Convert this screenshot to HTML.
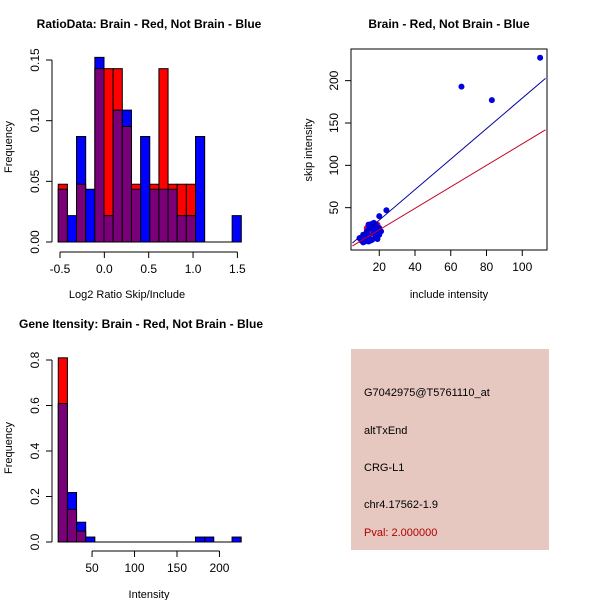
<!DOCTYPE html>
<html><head><meta charset="utf-8"><style>
body{margin:0;background:#fff;}
svg{display:block;font-family:"Liberation Sans",sans-serif;}
</style></head><body>
<svg id="c" width="600" height="600" xmlns="http://www.w3.org/2000/svg">
<rect width="600" height="600" fill="#fff"/>
<g>
<rect x="351" y="349" width="198" height="201" fill="#E6C8C1"/>
<text x="364" y="396" font-size="11" fill="#000">G7042975@T5761110_at</text>
<text x="364" y="434" font-size="11" fill="#000">altTxEnd</text>
<text x="364" y="471" font-size="11" fill="#000">CRG-L1</text>
<text x="364" y="508" font-size="11" fill="#000">chr4.17562-1.9</text>
<text x="364" y="536" font-size="11" fill="#B00000">Pval: 2.000000</text>
</g>
</svg>
<script>
// ratio histogram data (counts per bin)
const ratioStart=-0.52, ratioWidth=0.1032;
const ratioRed=[1,0,1,0,3,3,3,2,1,0,1,3,1,1,1,0,0,0,0,0];
const ratioBlue=[2,1,4,2,7,1,5,5,2,4,2,2,2,1,1,4,0,0,0,1];
const ratioXTicks=[-0.5,0,0.5,1,1.5];
const ratioXLabels=["-0.5","0.0","0.5","1.0","1.5"];
const ratioYTicks=[0,0.05,0.10,0.15];
const ratioYLabels=["0.00","0.05","0.10","0.15"];
// intensity histogram data
const intStart=10.2, intWidth=10.77;
const intRed=[17,3,1,0,0,0,0,0,0,0,0,0,0,0,0,0,0,0,0,0];
const intBlue=[28,10,4,1,0,0,0,0,0,0,0,0,0,0,0,1,1,0,0,1];
const intXTicks=[50,100,150,200];
const intYTicks=[0,0.2,0.4,0.6,0.8];
const intYLabels=["0.0","0.2","0.4","0.6","0.8"];
// scatter data
const blueX=[110,66,83,24,20,10,11,12,13,14,15,16,17,18,19,20,12,14,16,18,11,13,15,17,19,10,12,14,9,16,18,20,13,15,17,19,21,11,14];
const blueY=[227,193,177,47,40,12,14,16,20,24,30,31,32,28,22,26,10,10,12,15,18,22,26,20,16,12,11,17,14,25,30,18,14,11,24,13,22,9,30];
const redX=[13,19,9,12,15,18,10];
const redY=[26,30,14,12,18,22,11];
const blueFit=[1.8,-0.7];
const redFit=[1.27,-1.6];
const scXTicks=[20,40,60,80,100];
const scYTicks=[50,100,150,200];

const svg=document.getElementById('c');
const NS="http://www.w3.org/2000/svg";
function el(t,a,txt){const e=document.createElementNS(NS,t);for(const k in a)e.setAttribute(k,a[k]);if(txt!==undefined)e.textContent=txt;svg.appendChild(e);return e;}

function hist(o){
  const nR=o.red.reduce((a,b)=>a+b,0), nB=o.blue.reduce((a,b)=>a+b,0);
  for(let i=0;i<o.red.length;i++){
    const r=o.red[i]/nR,b=o.blue[i]/nB;
    const x0=o.sx(o.start+i*o.width), x1=o.sx(o.start+(i+1)*o.width);
    const hi=Math.max(r,b), lo=Math.min(r,b);
    if(hi>0){
      const e=el('rect',{x:x0,y:o.sy(hi),width:x1-x0,height:o.sy(0)-o.sy(hi),fill:r>b?'#FF0000':'#0000FF',stroke:'#000','stroke-width':1});
      
      
    }
    if(lo>0){
      const e=el('rect',{x:x0,y:o.sy(lo),width:x1-x0,height:o.sy(0)-o.sy(lo),fill:'#7A007A',stroke:'#000','stroke-width':1});
      
      
    }
  }
  const xa=el('line',{x1:o.sx(o.start),x2:o.sx(o.start+o.red.length*o.width),y1:o.sy(0),y2:o.sy(0),stroke:'#000'});
  
  
}
function xaxis(ticks,labels,sx,y,name){
  const a=el('line',{x1:sx(ticks[0]),x2:sx(ticks[ticks.length-1]),y1:y,y2:y,stroke:'#000'});
  
  
  ticks.forEach((t,i)=>{
    el('line',{x1:sx(t),x2:sx(t),y1:y,y2:y+6,stroke:'#000'});
    const e=el('text',{x:sx(t),y:y+21,'font-size':12,'text-anchor':'middle'},labels[i]);
    
    
  });
}
function yaxis(ticks,labels,sy,x,name){
  const a=el('line',{x1:x,x2:x,y1:sy(ticks[0]),y2:sy(ticks[ticks.length-1]),stroke:'#000'});
  
  
  ticks.forEach((t,i)=>{
    el('line',{x1:x-6,x2:x,y1:sy(t),y2:sy(t),stroke:'#000'});
    const lx=x-13;
    const e=el('text',{x:lx,y:sy(t),'font-size':12,'text-anchor':'middle',transform:`rotate(-90 ${lx} ${sy(t)})`},labels[i]);
    
    
  });
}
function label(x,y,txt,name,rot,bold,size){
  const a={x:x,y:y,'font-size':size||11,'text-anchor':'middle'};
  if(rot)a.transform=`rotate(-90 ${x} ${y})`;
  if(bold)a['font-weight']='bold';
  const e=el('text',a,txt);
  
  
}

// Panel 1
const sx1=v=>60+(v+0.5)*88.7, sy1=v=>242-v*1213.3;
hist({red:ratioRed,blue:ratioBlue,start:ratioStart,width:ratioWidth,sx:sx1,sy:sy1,name:'ratio'});
xaxis(ratioXTicks,ratioXLabels,sx1,252,'ratio');
yaxis(ratioYTicks,ratioYLabels,sy1,52,'ratio');
label(149,28,'RatioData: Brain - Red, Not Brain - Blue','ratio-title',false,true,12);
label(127,298,'Log2 Ratio Skip/Include','ratio-x-title');
label(12,147,'Frequency','ratio-y-title',true);

// Panel 3
const sx3=v=>49.6+v*0.8493, sy3=v=>542-v*227.5;
hist({red:intRed,blue:intBlue,start:intStart,width:intWidth,sx:sx3,sy:sy3,name:'intensity'});
xaxis(intXTicks,intXTicks.map(String),sx3,551,'intensity');
yaxis(intYTicks,intYLabels,sy3,52,'intensity');
label(141,328,'Gene Itensity: Brain - Red, Not Brain - Blue','intensity-title',false,true,12);
label(149,598,'Intensity','intensity-x-title');
label(12,448,'Frequency','intensity-y-title',true);

// Panel 2 scatter
const sx2=v=>343.5+v*1.7875, sy2=v=>250-v*0.8467;
el('rect',{x:351,y:49,width:196,height:201,fill:'none',stroke:'#000'});
xaxis(scXTicks,scXTicks.map(String),sx2,250,'scatter');
yaxis(scYTicks,scYTicks.map(String),sy2,351,'scatter');
label(449,28,'Brain - Red, Not Brain - Blue','scatter-title',false,true,12);
label(449,298,'include intensity','scatter-x-title');
label(312,150,'skip intensity','scatter-y-title',true);
redX.forEach((x,i)=>{const c=el('circle',{cx:sx2(x),cy:sy2(redY[i]),r:3,fill:'#E0102A'});
  
  });
blueX.forEach((x,i)=>{const c=el('circle',{cx:sx2(x),cy:sy2(blueY[i]),r:3,fill:'#0000E0'});
  
  });
const clipX0=5,clipX1=113;
const bl=el('line',{x1:sx2(clipX0),y1:sy2(blueFit[0]*clipX0+blueFit[1]),x2:sx2(clipX1),y2:sy2(blueFit[0]*clipX1+blueFit[1]),stroke:'#0000A0'});


const rl=el('line',{x1:sx2(clipX0),y1:sy2(redFit[0]*clipX0+redFit[1]),x2:sx2(clipX1),y2:sy2(redFit[0]*clipX1+redFit[1]),stroke:'#C00020'});


</script>
</body></html>
